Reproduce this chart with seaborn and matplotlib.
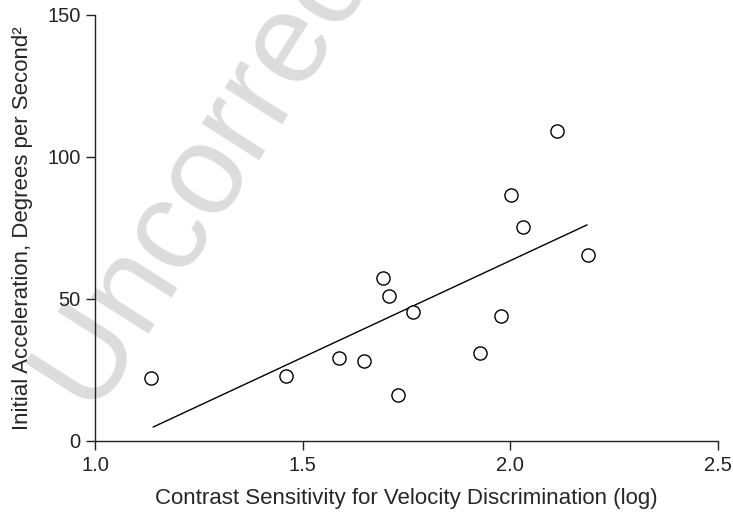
import numpy as np
import pandas as pd
import seaborn as sns
import matplotlib.pyplot as plt

# scatter data
contrast_sens = [1.135, 1.46, 1.588, 1.648, 1.694, 1.708, 1.73, 1.766,
                 1.927, 1.978, 2.002, 2.031, 2.112, 2.187]
init_accel = [22.2, 22.9, 29.2, 28.2, 57.4, 51.1, 16.2, 45.4,
              31.0, 44.0, 86.6, 75.4, 109.2, 65.5]

# regression line end points
fit_x = [1.14, 2.185]
fit_y = [4.9, 76.1]

x_ticks = [1.0, 1.5, 2.0, 2.5]
y_ticks = [0, 50, 100, 150]

sns.set_theme(style="ticks")
plt.rcParams['font.family'] = ['Liberation Sans', 'DejaVu Sans']

fig = plt.figure(figsize=(7.33, 5.13), dpi=100)
ax = fig.add_axes([0.1296, 0.1404, 0.8499, 0.8304])

# watermark, drawn behind the axes (negative zorder)
fig.text(0.13, 0.185, "Uncorrected Proof", fontsize=92, color="#dcdcdc",
         fontweight="medium", rotation=57.5, rotation_mode="anchor",
         ha="left", va="baseline", zorder=-1)
ax.patch.set_alpha(0)

df = pd.DataFrame({"x": contrast_sens, "y": init_accel})
sns.scatterplot(data=df, x="x", y="y", ax=ax, marker="o", s=90,
                facecolor="white", edgecolor="black", linewidth=1.0, zorder=3)
sns.lineplot(x=fit_x, y=fit_y, ax=ax, color="black", linewidth=1.0, zorder=2)

ax.set_xlim(1.0, 2.5)
ax.set_ylim(0, 150)
ax.set_xticks(x_ticks)
ax.set_xticklabels(["1.0", "1.5", "2.0", "2.5"])
ax.set_yticks(y_ticks)
ax.tick_params(direction="out", length=6.5, width=1, pad=4, labelsize=14.5, colors="#222222")
sns.despine(ax=ax)
for s in ["left", "bottom"]:
    ax.spines[s].set_linewidth(1)
    ax.spines[s].set_color("#222222")

ax.set_xlabel("Contrast Sensitivity for Velocity Discrimination (log)", fontsize=16, labelpad=10)
ax.set_ylabel("Initial Acceleration, Degrees per Second²", fontsize=16, labelpad=10)

fig.savefig("out.png", dpi=100)
